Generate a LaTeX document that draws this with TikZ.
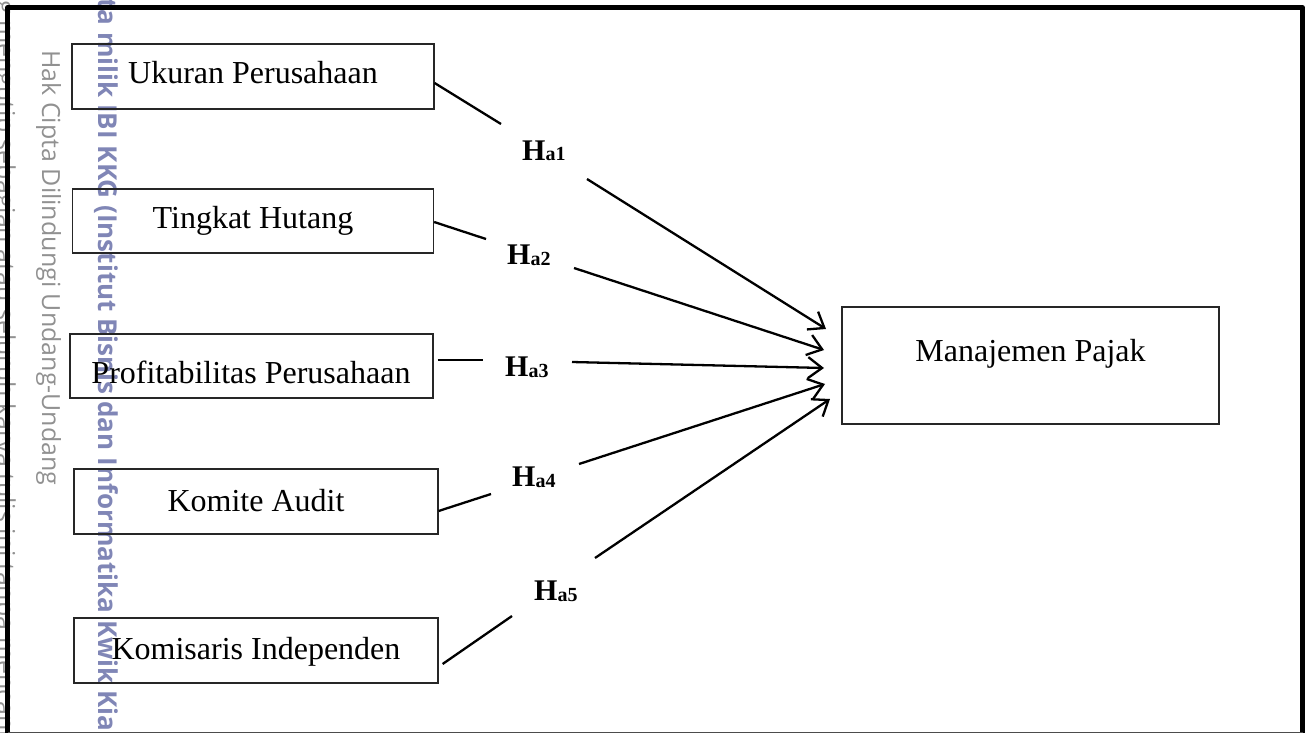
\documentclass[tikz,border=0pt]{standalone}
\usepackage{fontspec}
\setmainfont{Liberation Serif}
\newfontfamily\wmfont{Open Sans}
\usetikzlibrary{arrows.meta}
\definecolor{wmgray}{RGB}{145,145,145}
\definecolor{wmblue}{RGB}{128,134,182}
\newcommand{\hyp}[1]{{\fontsize{30}{34}\selectfont\bfseries H}\raisebox{-1pt}{\fontsize{20}{24}\selectfont\bfseries a#1}}
\begin{document}
\begin{tikzpicture}[x=1pt,y=-1pt,
  box/.style={draw=black!85,line width=1.2pt,inner sep=0pt},
  boxtext/.style={anchor=base,inner sep=0pt,font=\fontsize{32}{38}\selectfont},
  conn/.style={line width=2.3pt},
  arr/.style={conn,-{Straight Barb[length=14pt,width=21pt]}},
  hlabel/.style={anchor=base west,inner sep=0pt},
  wmthin/.style={rotate=-90,anchor=base west,inner sep=0pt,text=wmgray,font=\wmfont\fontsize{25}{30}\selectfont},
  wmbold/.style={rotate=-90,anchor=base west,inner sep=0pt,text=wmblue,font=\wmfont\bfseries\fontsize{26}{30}\selectfont}]
\useasboundingbox (0,0) rectangle (1311,733);
% watermarks
\begin{scope}
\clip (0,0) rectangle (1311,733);
\node[wmthin] (wm1) at (42,50) {Hak Cipta Dilindungi Undang-Undang};
\node[wmbold] (wm2) at (98,32) {\llap{Hak Cipta }milik IBI KKG (Institut Bisnis dan Informatika Kwik Kian Gie)};
\node[wmthin] (wm3) at (-3,20) {\llap{Dilarang }mengutip sebagian atau seluruh karya tulis ini tanpa mencantumkan dan menyebutkan sumber};
\end{scope}
% boxes
\node[box,minimum width=362pt,minimum height=65pt] (b1) at (253,76.5) {};
\node[box,minimum width=361pt,minimum height=64pt] (b2) at (253,221) {};
\node[box,minimum width=363pt,minimum height=64pt] (b3) at (251.5,366) {};
\node[box,minimum width=364pt,minimum height=65pt] (b4) at (256,501.5) {};
\node[box,minimum width=364pt,minimum height=65pt] (b5) at (256,650.5) {};
\node[box,minimum width=377pt,minimum height=117pt] (bm) at (1030.5,365.5) {};
\node[boxtext] (tx1) at (253,84) {Ukuran Perusahaan};
\node[boxtext] (tx2) at (253,228) {Tingkat Hutang};
\node[boxtext] (tx3) at (251,383) {Profitabilitas Perusahaan};
\node[boxtext] (tx4) at (256,511) {Komite Audit};
\node[boxtext] (tx5) at (256,659) {Komisaris Independen};
\node[boxtext] (txm) at (1030.5,361) {Manajemen Pajak};
% hypothesis labels
\node[hlabel] (h1) at (522,160) {\hyp{1}};
\node[hlabel] (h2) at (507,264) {\hyp{2}};
\node[hlabel] (h3) at (505,376) {\hyp{3}};
\node[hlabel] (h4) at (512,486) {\hyp{4}};
\node[hlabel] (h5) at (534,600) {\hyp{5}};
% connector points
\coordinate (g1a) at (501,124); \coordinate (g1b) at (587,179); \coordinate (e1) at (826,329);
\coordinate (g2a) at (486,239); \coordinate (g2b) at (574,268); \coordinate (e2) at (824,350);
\coordinate (g3a) at (483,360); \coordinate (g3b) at (572,362); \coordinate (e3) at (824,368);
\coordinate (g4a) at (491,494); \coordinate (g4b) at (579,464); \coordinate (e4) at (825,384);
\coordinate (g5a) at (512,616); \coordinate (g5b) at (595,558); \coordinate (e5) at (830,399);
\draw[conn] ([yshift=-6.5pt]b1.east) -- (g1a);
\draw[arr] (g1b) -- (e1);
\draw[conn] ([yshift=-1pt]b2.east) -- (g2a);
\draw[arr] (g2b) -- (e2);
\draw[conn] ([xshift=4pt,yshift=6pt]b3.east) -- (g3a);
\draw[arr] (g3b) -- (e3);
\draw[conn] ([yshift=-9.5pt]b4.east) -- (g4a);
\draw[arr] (g4b) -- (e4);
\draw[conn] ([xshift=4pt,yshift=-13.5pt]b5.east) -- (g5a);
\draw[arr] (g5b) -- (e5);
% frame
\coordinate (fbl) at (7.5,733); \coordinate (ftl) at (7.5,7.5);
\coordinate (ftr) at (1302.5,7.5); \coordinate (fbr) at (1302.5,733);
\draw[line width=4.5pt,line join=round] (fbl) -- (ftl) -- (ftr) -- (fbr);
\draw[line width=1pt,black!70] (7.5,732) -- (1302.5,732);
\end{tikzpicture}
\end{document}
